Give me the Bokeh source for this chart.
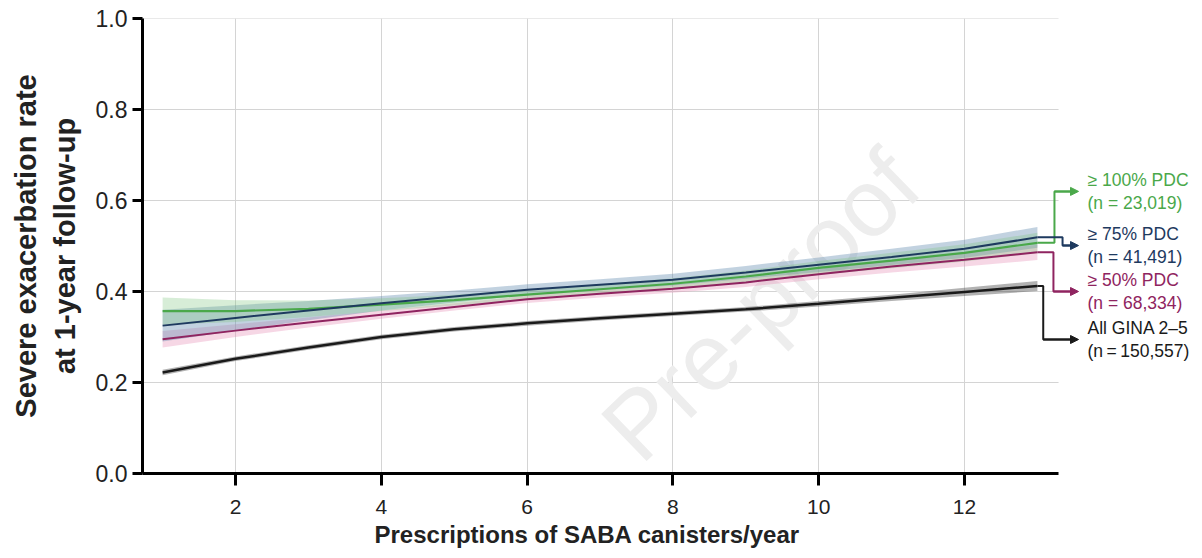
import math
from bokeh.plotting import figure
from bokeh.models import Range1d, FixedTicker, Label, Arrow, NormalHead, PrintfTickFormatter, Title
from bokeh.core.properties import value
from bokeh.embed import file_html
from bokeh.resources import INLINE

# ---------------- data ----------------
canisters = [1, 2, 3, 4, 5, 6, 7, 8, 9, 10, 11, 12, 13]

all_gina = [0.222, 0.252, 0.277, 0.300, 0.317, 0.330, 0.341, 0.351, 0.361, 0.373, 0.386, 0.399, 0.412]
all_gina_lo = [0.216, 0.247, 0.272, 0.295, 0.312, 0.325, 0.336, 0.346, 0.356, 0.367, 0.379, 0.390, 0.401]
all_gina_hi = [0.228, 0.257, 0.282, 0.305, 0.322, 0.335, 0.346, 0.356, 0.366, 0.379, 0.393, 0.408, 0.423]

pdc50 = [0.295, 0.314, 0.332, 0.349, 0.366, 0.383, 0.395, 0.406, 0.420, 0.438, 0.455, 0.470, 0.486]
pdc50_lo = [0.277, 0.300, 0.321, 0.340, 0.358, 0.375, 0.387, 0.397, 0.410, 0.427, 0.442, 0.455, 0.469]
pdc50_hi = [0.313, 0.328, 0.343, 0.358, 0.374, 0.391, 0.403, 0.415, 0.430, 0.449, 0.468, 0.485, 0.503]

pdc75 = [0.325, 0.342, 0.358, 0.374, 0.389, 0.404, 0.415, 0.426, 0.442, 0.459, 0.476, 0.494, 0.519]
pdc75_lo = [0.290, 0.314, 0.337, 0.358, 0.376, 0.392, 0.403, 0.413, 0.428, 0.443, 0.458, 0.474, 0.496]
pdc75_hi = [0.360, 0.370, 0.379, 0.390, 0.402, 0.416, 0.427, 0.439, 0.456, 0.475, 0.494, 0.514, 0.542]

pdc100 = [0.357, 0.357, 0.362, 0.371, 0.381, 0.393, 0.405, 0.417, 0.433, 0.452, 0.468, 0.485, 0.507]
pdc100_lo = [0.327, 0.333, 0.344, 0.357, 0.369, 0.382, 0.394, 0.405, 0.420, 0.437, 0.451, 0.466, 0.485]
pdc100_hi = [0.387, 0.381, 0.380, 0.385, 0.393, 0.404, 0.416, 0.429, 0.446, 0.467, 0.485, 0.504, 0.529]

group_labels = ["≥ 100% PDC\n(n = 23,019)", "≥ 75% PDC\n(n = 41,491)",
                "≥ 50% PDC\n(n = 68,334)", "All GINA 2–5\n(n\u2009=\u2009150,557)"]
x_ticks = [2, 4, 6, 8, 10, 12]
y_ticks = [0.0, 0.2, 0.4, 0.6, 0.8, 1.0]
x_title = "Prescriptions of SABA canisters/year"
y_title = "Severe exacerbation rate\nat 1-year follow-up"

# ---------------- styling ----------------
FONT = "Liberation Sans"
C_GREEN, C_BLUE, C_PINK, C_BLACK = "#4aa84a", "#1e3a5f", "#8f2460", "#1a1a1a"
B_GREEN, B_BLUE, B_PINK, B_BLACK = "#7cc47c", "#5f8aad", "#e58bb5", "#555555"

X0, X1 = 0.724, 13.29

p = figure(width=1194, height=550, output_backend="svg", toolbar_location=None,
           x_range=Range1d(X0, 15.155), y_range=Range1d(0.0, 1.0),
           min_border_left=142, min_border_right=0, min_border_top=18, min_border_bottom=77)
p.outline_line_color = None
p.ygrid.visible = False
p.xgrid.ticker = FixedTicker(ticks=x_ticks)
p.xgrid.grid_line_color = "#d4d4d4"
p.xgrid.grid_line_width = 1

# horizontal grid lines limited to the axis extent
for yv in y_ticks[1:]:
    p.segment(x0=X0, y0=yv, x1=X1, y1=yv, line_color="#d4d4d4", line_width=1, level="underlay")

# watermark
p.add_layout(Label(x=9.2, y=0.37, text="Pre-proof", angle=math.radians(44),
                   text_font=FONT, text_font_size="95px", text_color="#ededed",
                   text_align="center", text_baseline="middle", level="underlay"))

# axes
xa = p.xaxis[0]
xa.ticker = FixedTicker(ticks=x_ticks)
xa.bounds = (X0, X1)
xa.axis_line_width = 3
xa.axis_line_color = "black"
xa.major_tick_line_width = 3
xa.major_tick_out = 12
xa.major_tick_in = 0
xa.minor_tick_line_color = None
xa.major_label_text_font = FONT
xa.major_label_text_font_size = "21px"
xa.major_label_text_color = "#222222"
xa.major_label_standoff = 14

# x-axis title, centred under the axis extent (not the full frame)
p.add_layout(Title(text=x_title, align="left", offset=232, standoff=4,
                   text_font=FONT, text_font_size="24px", text_font_style="bold",
                   text_color="#222222"), "below")

ya = p.yaxis[0]
ya.ticker = FixedTicker(ticks=y_ticks)
ya.formatter = PrintfTickFormatter(format="%.1f")
ya.axis_line_width = 3
ya.axis_line_color = "black"
ya.major_tick_line_width = 3
ya.major_tick_out = 10
ya.major_tick_in = 0
ya.minor_tick_line_color = None
ya.major_label_text_font = FONT
ya.major_label_text_font_size = "23px"
ya.major_label_text_color = "#222222"
ya.major_label_standoff = 5
ya.axis_label = y_title
ya.axis_label_text_font = FONT
ya.axis_label_text_font_size = "29px"
ya.axis_label_text_font_style = "bold"
ya.axis_label_text_color = "#222222"
ya.axis_label_standoff = 12

# confidence bands
p.varea(x=canisters, y1=all_gina_lo, y2=all_gina_hi, fill_color=B_BLACK, fill_alpha=0.45)
p.varea(x=canisters, y1=pdc50_lo, y2=pdc50_hi, fill_color=B_PINK, fill_alpha=0.35)
p.varea(x=canisters, y1=pdc75_lo, y2=pdc75_hi, fill_color=B_BLUE, fill_alpha=0.38)
p.varea(x=canisters, y1=pdc100_lo, y2=pdc100_hi, fill_color=B_GREEN, fill_alpha=0.3)

# lines
p.line(canisters, all_gina, line_color=C_BLACK, line_width=2.5)
p.line(canisters, pdc50, line_color=C_PINK, line_width=2)
p.line(canisters, pdc100, line_color=C_GREEN, line_width=2.2)
p.line(canisters, pdc75, line_color=C_BLUE, line_width=2)

# connectors + labels on the right
x_end = canisters[-1]
arrow_x = 13.564
text_x = 13.687
label_y = [0.620, 0.501, 0.400, 0.2945]
knee_x = [13.234, 13.345, 13.22, 13.08]
ends = [pdc100[-1], pdc75[-1], pdc50[-1], all_gina[-1]]
colors = [C_GREEN, C_BLUE, C_PINK, C_BLACK]

for ly, kx, ey, col in zip(label_y, knee_x, ends, colors):
    p.line([x_end, kx, kx, arrow_x - 0.05], [ey, ey, ly, ly], line_color=col, line_width=2)
    p.add_layout(Arrow(x_start=kx, y_start=ly, x_end=arrow_x, y_end=ly,
                       line_color=col, line_width=2,
                       end=NormalHead(size=8, fill_color=col, line_color=col)))

p.text(x=[text_x] * 4, y=label_y, text=group_labels, text_color=colors,
       text_font=value(FONT), text_font_size="17.5px", text_align="left",
       text_baseline="middle", text_line_height=1.12)

open("out.html", "w").write(file_html(p, INLINE))
